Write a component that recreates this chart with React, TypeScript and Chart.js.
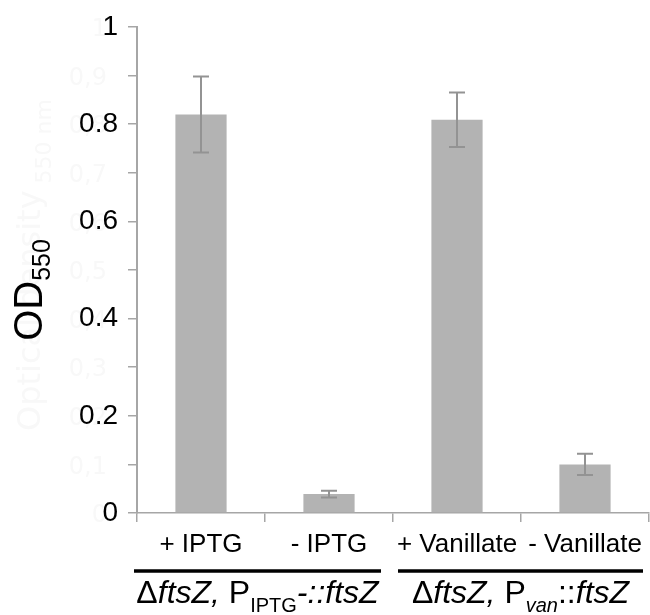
import React, { useEffect, useRef } from "react";
import { Chart, registerables } from "chart.js";

Chart.register(...registerables);

const FONT = '"Liberation Sans", Arial, Helvetica, sans-serif';

const categories = ["+ IPTG", "- IPTG", "+ Vanillate", "- Vanillate"];
const odValues = [0.82, 0.039, 0.809, 0.1];
const odErrors = [0.078, 0.007, 0.056, 0.022];
const yTickLabels = ["0", "", "0.2", "", "0.4", "", "0.6", "", "0.8", "", "1"];
const ghostTickLabels = ["0", "0,1", "0,2", "0,3", "0,4", "0,5", "0,6", "0,7", "0,8", "0,9", "1"];
const yTitleMain = "OD";
const yTitleSub = "550";
const ghostTitleMain = "Optical density";
const ghostTitleSub = " 550 nm";

type Part = { t: string; i?: boolean; sub?: boolean };
const group1Parts: Part[] = [
  { t: "Δ" },
  { t: "ftsZ,", i: true },
  { t: " P" },
  { t: "IPTG", sub: true },
  { t: "-::ftsZ", i: true },
];
const group2Parts: Part[] = [
  { t: "Δ" },
  { t: "ftsZ,", i: true },
  { t: " P" },
  { t: "van", sub: true, i: true },
  { t: "::" },
  { t: "ftsZ", i: true },
];
const groupRanges = [
  [0, 1],
  [2, 3],
];
const groupParts = [group1Parts, group2Parts];

function drawParts(
  ctx: CanvasRenderingContext2D,
  parts: Part[],
  cx: number,
  baseline: number,
  size: number,
  subSize: number,
  subShift: number
) {
  const fontOf = (p: Part) => `${p.i ? "italic " : ""}${p.sub ? subSize : size}px ${FONT}`;
  const widths = parts.map((p) => {
    ctx.font = fontOf(p);
    return ctx.measureText(p.t).width;
  });
  const total = widths.reduce((a, b) => a + b, 0);
  let x = cx - total / 2;
  parts.forEach((p, i) => {
    ctx.font = fontOf(p);
    ctx.fillText(p.t, x, baseline + (p.sub ? subShift : 0));
    x += widths[i];
  });
}

const ghostPlugin = {
  id: "ghost",
  beforeDraw(chart: any) {
    const ctx = chart.ctx as CanvasRenderingContext2D;
    const y = chart.scales.y;
    ctx.save();
    ctx.fillStyle = "#f8f8f8";
    ctx.textAlign = "right";
    ctx.textBaseline = "middle";
    ctx.font = `24px "DejaVu Sans", sans-serif`;
    ghostTickLabels.forEach((lab, i) => {
      ctx.fillText(lab, 107, y.getPixelForValue(i * 0.1) + 3);
    });
    ctx.translate(40, 265);
    ctx.rotate(-Math.PI / 2);
    ctx.textAlign = "left";
    ctx.textBaseline = "alphabetic";
    ctx.font = `32px "DejaVu Sans", sans-serif`;
    const w1 = ctx.measureText(ghostTitleMain).width;
    ctx.font = `22px "DejaVu Sans", sans-serif`;
    const w2 = ctx.measureText(ghostTitleSub).width;
    const start = -(w1 + w2) / 2;
    ctx.font = `32px "DejaVu Sans", sans-serif`;
    ctx.fillText(ghostTitleMain, start, 0);
    ctx.font = `22px "DejaVu Sans", sans-serif`;
    ctx.fillText(ghostTitleSub, start + w1, 11);
    ctx.restore();
  },
};

const errorBarPlugin = {
  id: "errorBars",
  afterDatasetsDraw(chart: any) {
    const ctx = chart.ctx as CanvasRenderingContext2D;
    const y = chart.scales.y;
    const meta = chart.getDatasetMeta(0);
    ctx.save();
    ctx.strokeStyle = "#939393";
    ctx.lineWidth = 2;
    meta.data.forEach((bar: any, i: number) => {
      const v = odValues[i];
      const e = odErrors[i];
      const top = y.getPixelForValue(v + e);
      const bot = y.getPixelForValue(v - e);
      const x = bar.x;
      ctx.beginPath();
      ctx.moveTo(x, top);
      ctx.lineTo(x, bot);
      ctx.moveTo(x - 8, top);
      ctx.lineTo(x + 8, top);
      ctx.moveTo(x - 8, bot);
      ctx.lineTo(x + 8, bot);
      ctx.stroke();
    });
    ctx.restore();
  },
};

const labelsPlugin = {
  id: "extraLabels",
  afterDraw(chart: any) {
    const ctx = chart.ctx as CanvasRenderingContext2D;
    const xs = chart.scales.x;
    ctx.save();
    ctx.fillStyle = "#000";
    ctx.translate(42, 290);
    ctx.rotate(-Math.PI / 2);
    ctx.textAlign = "left";
    ctx.textBaseline = "alphabetic";
    ctx.font = `40px ${FONT}`;
    const wm = ctx.measureText(yTitleMain).width;
    ctx.font = `25px ${FONT}`;
    const ws = ctx.measureText(yTitleSub).width;
    const st = -(wm + ws) / 2;
    ctx.font = `40px ${FONT}`;
    ctx.fillText(yTitleMain, st, 0);
    ctx.font = `25px ${FONT}`;
    ctx.fillText(yTitleSub, st + wm, 8);
    ctx.restore();

    ctx.save();
    ctx.fillStyle = "#000";
    ctx.strokeStyle = "#000";
    ctx.lineWidth = 3.5;
    ctx.textAlign = "left";
    ctx.textBaseline = "alphabetic";
    const half = (xs.getPixelForValue(1) - xs.getPixelForValue(0)) / 2;
    groupRanges.forEach((r, gi) => {
      const left = xs.getPixelForValue(r[0]) - half;
      const right = xs.getPixelForValue(r[1]) + half;
      const l = gi === 0 ? left - 3 : left + 5;
      const rr = gi === 0 ? right - 12 : right - 6;
      ctx.beginPath();
      ctx.moveTo(l, 571);
      ctx.lineTo(rr, 571);
      ctx.stroke();
      drawParts(ctx, groupParts[gi], (l + rr) / 2, 603, 32, 20, 9);
    });
    ctx.restore();
  },
};

export default function App() {
  const ref = useRef<HTMLCanvasElement | null>(null);
  useEffect(() => {
    document.body.style.margin = "0";
    const canvas = ref.current!;
    const chart = new Chart(canvas, {
      type: "bar",
      data: {
        labels: categories,
        datasets: [
          {
            data: odValues,
            backgroundColor: "#b3b3b3",
            borderWidth: 0,
            barPercentage: 0.4,
            categoryPercentage: 1,
          },
        ],
      },
      options: {
        animation: false,
        responsive: false,
        devicePixelRatio: 1,
        layout: { padding: { top: 27, right: 1, left: 0, bottom: 0 } },
        plugins: { legend: { display: false }, tooltip: { enabled: false } },
        scales: {
          x: {
            type: "category",
            offset: true,
            grid: {
              offset: true,
              drawOnChartArea: false,
              drawTicks: true,
              tickLength: 9,
              color: "#a6a6a6",
              lineWidth: 1.5,
            },
            border: { display: true, color: "#a6a6a6", width: 1.5 },
            ticks: {
              color: "#000",
              font: { family: FONT, size: 26 },
              padding: 7,
              maxRotation: 0,
              autoSkip: false,
            },
            afterFit: (s: any) => {
              s.height = 102;
            },
          },
          y: {
            min: 0,
            max: 1,
            ticks: {
              stepSize: 0.1,
              autoSkip: false,
              callback: (_v: any, i: number) => yTickLabels[i],
              color: "#000",
              font: { family: FONT, size: 28 },
              padding: 10,
            },
            grid: {
              drawOnChartArea: false,
              drawTicks: true,
              tickLength: 9,
              color: "#a6a6a6",
              lineWidth: 1.5,
            },
            border: { display: true, color: "#a6a6a6", width: 2 },
            afterFit: (s: any) => {
              s.width = 137;
            },
          },
        },
      },
      plugins: [ghostPlugin, errorBarPlugin, labelsPlugin],
    });
    return () => chart.destroy();
  }, []);
  return <canvas ref={ref} width={650} height={615} style={{ display: "block" }} />;
}
